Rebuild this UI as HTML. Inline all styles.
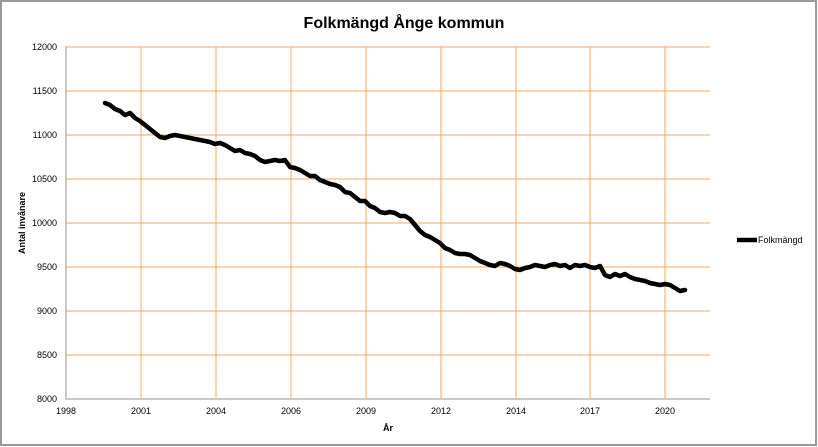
<!DOCTYPE html>
<html><head><meta charset="utf-8"><style>
html,body{margin:0;padding:0;background:#fff}
svg{display:block}
text{font-family:"Liberation Sans",Arial,sans-serif}
</style></head><body>
<svg width="818" height="447" viewBox="0 0 818 447">
<rect x="1" y="1" width="815" height="444" fill="#fff" stroke="#9a9a9a" stroke-width="2"/>
<text x="404" y="28" font-size="16" font-weight="bold" text-anchor="middle">Folkmängd Ånge kommun</text>
<g stroke="#f9a65a" stroke-width="1.3" shape-rendering="crispEdges">
<line x1="66" y1="47" x2="710" y2="47"/><line x1="66" y1="91" x2="710" y2="91"/>
<line x1="66" y1="135" x2="710" y2="135"/><line x1="66" y1="179" x2="710" y2="179"/>
<line x1="66" y1="223" x2="710" y2="223"/><line x1="66" y1="267" x2="710" y2="267"/>
<line x1="66" y1="311" x2="710" y2="311"/><line x1="66" y1="355" x2="710" y2="355"/>
<line x1="141" y1="47" x2="141" y2="399"/><line x1="216" y1="47" x2="216" y2="399"/>
<line x1="291" y1="47" x2="291" y2="399"/><line x1="366" y1="47" x2="366" y2="399"/>
<line x1="441" y1="47" x2="441" y2="399"/><line x1="516" y1="47" x2="516" y2="399"/>
<line x1="590" y1="47" x2="590" y2="399"/><line x1="665" y1="47" x2="665" y2="399"/>
</g>
<g stroke="#c8c8c8" stroke-width="2" shape-rendering="crispEdges"><line x1="66" y1="46" x2="66" y2="400"/><line x1="65" y1="399" x2="710" y2="399"/></g>
<g font-size="9" text-anchor="end">
<text x="57" y="50">12000</text><text x="57" y="94">11500</text><text x="57" y="138">11000</text>
<text x="57" y="182">10500</text><text x="57" y="226">10000</text><text x="57" y="270">9500</text>
<text x="57" y="314">9000</text><text x="57" y="358">8500</text><text x="57" y="402">8000</text>
</g>
<g font-size="9" text-anchor="middle">
<text x="66" y="414">1998</text><text x="141" y="414">2001</text><text x="216" y="414">2004</text>
<text x="291" y="414">2006</text><text x="366" y="414">2009</text><text x="441" y="414">2012</text>
<text x="516" y="414">2014</text><text x="590" y="414">2017</text><text x="665" y="414">2020</text>
</g>
<text x="388" y="431" font-size="9" font-weight="bold" text-anchor="middle">År</text>
<text transform="translate(25,223) rotate(-90)" font-size="9" font-weight="bold" text-anchor="middle">Antal invånare</text>
<polyline fill="none" stroke="#000" stroke-width="4.5" stroke-linejoin="round" stroke-linecap="round" points="105,103 110,105 115,109 120,111 125,115 130,113 135,118 140,121 145,125 150,129 155,133 160,137 165,138 170,136 175,135 180,136 185,137 190,138 195,139 200,140 210,142 215,144 220,143 225,145 230,148 235,151 240,150 245,153 250,154 255,156 260,160 265,162 270,161 275,160 280,161 285,160 290,167 295,168 300,170 305,173 310,176 315,176 320,180 325,182 330,184 335,185 340,187 345,192 350,193 355,197 360,201 365,201 370,206 375,208 380,212 385,213 390,212 395,213 400,216 405,216 410,219 415,225 420,231 425,235 430,237 435,240 440,243 445,248 450,250 455,253 460,254 465,254 470,255 475,258 480,261 485,263 490,265 495,266 500,263 505,264 510,266 515,269 520,270 525,268 530,267 535,265 540,266 545,267 550,265 555,264 560,266 565,265 570,268 575,265 580,266 585,265 590,267 595,268 600,266 605,275 610,277 615,274 620,276 625,274 630,277 635,279 640,280 645,281 650,283 655,284 660,285 665,284 670,285 675,288 680,291 685,290"/>
<line x1="737" y1="240" x2="757" y2="240" stroke="#000" stroke-width="4.5"/>
<text x="758" y="243" font-size="9">Folkmängd</text>
</svg>
</body></html>
